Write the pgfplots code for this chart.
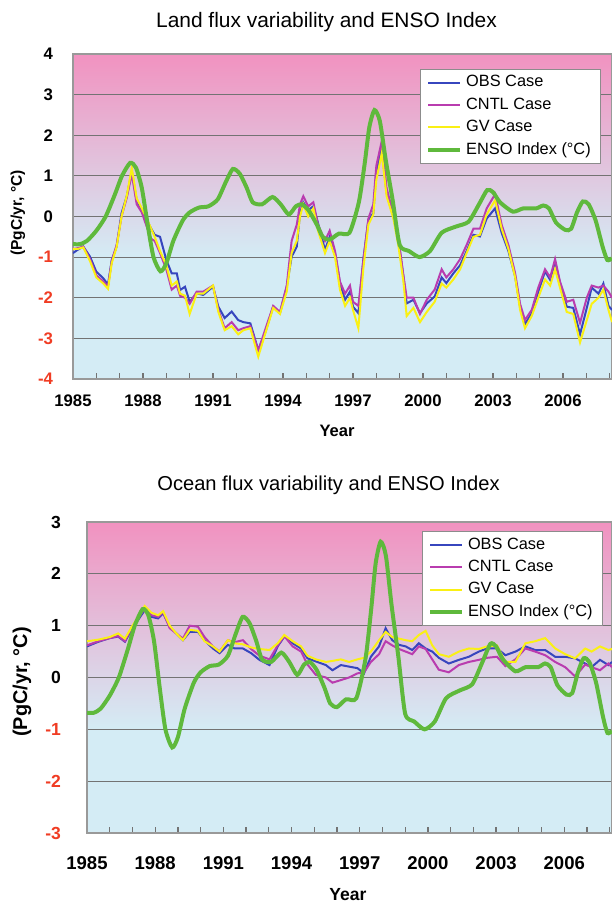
\documentclass[border=0pt]{standalone}
\usepackage{pgfplots}
\pgfplotsset{compat=1.18}
\usepackage{pgfplotstable}
\usepackage{fontspec}
\setmainfont{Liberation Sans}

\definecolor{pk}{RGB}{241,146,192}
\definecolor{lb}{RGB}{212,236,245}
\definecolor{obsc}{RGB}{55,70,190}
\definecolor{cntlc}{RGB}{185,60,175}
\definecolor{gvc}{RGB}{250,240,20}
\definecolor{ensoc}{RGB}{95,185,60}
\definecolor{negred}{RGB}{240,60,35}

\pgfdeclareverticalshading{landbg}{100bp}{color(0bp)=(lb); color(43.75bp)=(lb); color(75bp)=(pk); color(100bp)=(pk)}
\pgfdeclareverticalshading{oceanbg}{100bp}{color(0bp)=(lb); color(41.67bp)=(lb); color(75bp)=(pk); color(100bp)=(pk)}

\pgfplotstableread{
year v
1985.0 -0.68
1985.3 -0.68
1985.6 -0.6
1986.0 -0.35
1986.4 0.0
1986.8 0.55
1987.1 1.0
1987.45 1.32
1987.7 1.2
1987.95 0.7
1988.2 -0.2
1988.45 -1.0
1988.75 -1.35
1989.0 -1.15
1989.3 -0.6
1989.7 -0.1
1990.0 0.1
1990.4 0.22
1990.8 0.25
1991.2 0.42
1991.55 0.85
1991.85 1.17
1992.15 1.05
1992.45 0.7
1992.7 0.35
1993.1 0.3
1993.55 0.48
1993.9 0.3
1994.25 0.05
1994.55 0.25
1994.8 0.3
1995.1 0.15
1995.45 -0.2
1995.7 -0.5
1996.0 -0.57
1996.4 -0.42
1996.85 -0.4
1997.25 0.35
1997.5 1.3
1997.7 2.2
1997.92 2.62
1998.15 2.35
1998.4 1.4
1998.7 0.4
1999.0 -0.7
1999.4 -0.85
1999.85 -1.0
2000.3 -0.85
2000.8 -0.4
2001.4 -0.25
2001.95 -0.13
2002.4 0.3
2002.75 0.65
2003.0 0.6
2003.3 0.35
2003.85 0.12
2004.3 0.2
2004.85 0.2
2005.15 0.27
2005.4 0.2
2005.7 -0.15
2006.1 -0.33
2006.35 -0.3
2006.6 0.1
2006.85 0.37
2007.1 0.3
2007.4 -0.1
2007.7 -0.75
2007.9 -1.07
2008.1 -1.03
}\ensotab

\pgfplotstableread{
year obs cntl gv
1985.0 -0.9 -0.8 -0.8
1985.2 -0.82 -0.78 -0.8
1985.44 -0.74 -0.74 -0.76
1985.73 -0.99 -1.05 -1.1
1986.0 -1.36 -1.45 -1.5
1986.3 -1.52 -1.6 -1.65
1986.5 -1.68 -1.72 -1.78
1986.66 -1.07 -1.1 -1.15
1986.87 -0.74 -0.7 -0.75
1987.08 0.08 0.0 0.0
1987.3 0.49 0.45 0.5
1987.52 1.1 1.05 1.2
1987.73 0.4 0.3 0.45
1987.95 0.16 0.1 0.2
1988.16 -0.08 -0.25 -0.05
1988.35 -0.3 -0.55 -0.3
1988.5 -0.45 -0.6 -0.5
1988.73 -0.5 -0.9 -0.85
1989.0 -1.07 -1.3 -1.2
1989.23 -1.4 -1.8 -1.7
1989.45 -1.4 -1.7 -1.6
1989.59 -1.81 -1.95 -1.9
1989.8 -1.73 -2.0 -1.95
1990.0 -2.1 -2.15 -2.4
1990.3 -1.89 -1.85 -1.9
1990.58 -1.93 -1.85 -1.9
1991.0 -1.73 -1.7 -1.7
1991.23 -2.22 -2.3 -2.35
1991.5 -2.5 -2.75 -2.8
1991.8 -2.34 -2.6 -2.7
1992.08 -2.55 -2.8 -2.9
1992.3 -2.6 -2.75 -2.8
1992.6 -2.63 -2.7 -2.75
1992.94 -3.29 -3.3 -3.45
1993.23 -2.87 -2.8 -2.9
1993.58 -2.22 -2.2 -2.25
1993.87 -2.38 -2.35 -2.4
1994.16 -1.73 -1.7 -1.85
1994.37 -0.99 -0.6 -0.9
1994.59 -0.74 -0.2 -0.6
1994.73 0.08 0.3 0.0
1994.87 0.35 0.5 0.3
1995.08 0.16 0.25 0.0
1995.3 0.25 0.35 0.2
1995.5 -0.16 -0.2 -0.35
1995.8 -0.82 -0.6 -0.9
1996.0 -0.5 -0.35 -0.6
1996.23 -0.9 -0.85 -1.0
1996.44 -1.64 -1.6 -1.8
1996.66 -2.05 -1.9 -2.2
1996.87 -1.85 -1.7 -2.0
1997.0 -2.22 -2.1 -2.3
1997.23 -2.38 -2.2 -2.75
1997.44 -1.07 -1.1 -1.3
1997.66 -0.08 -0.05 -0.2
1997.87 0.08 0.3 0.05
1998.0 1.1 1.25 0.9
1998.23 1.7 1.85 1.55
1998.44 0.58 0.7 0.5
1998.73 0.0 0.05 -0.05
1998.94 -0.57 -0.5 -0.7
1999.16 -1.48 -1.45 -1.6
1999.3 -2.14 -2.0 -2.45
1999.59 -2.05 -2.0 -2.25
1999.87 -2.38 -2.4 -2.6
2000.16 -2.14 -2.05 -2.35
2000.5 -1.97 -1.8 -2.1
2000.8 -1.5 -1.3 -1.65
2001.0 -1.64 -1.5 -1.75
2001.3 -1.4 -1.3 -1.55
2001.59 -1.2 -1.05 -1.3
2001.87 -0.85 -0.7 -0.9
2002.16 -0.45 -0.3 -0.5
2002.44 -0.49 -0.3 -0.45
2002.73 -0.05 0.2 0.05
2003.09 0.2 0.55 0.4
2003.37 -0.4 -0.2 -0.3
2003.66 -0.85 -0.7 -0.8
2003.95 -1.48 -1.4 -1.5
2004.16 -2.22 -2.15 -2.3
2004.37 -2.65 -2.55 -2.75
2004.66 -2.38 -2.3 -2.45
2004.94 -1.85 -1.75 -2.0
2005.23 -1.35 -1.3 -1.55
2005.45 -1.56 -1.5 -1.7
2005.66 -1.11 -1.05 -1.3
2005.87 -1.64 -1.6 -1.75
2006.16 -2.22 -2.1 -2.35
2006.44 -2.25 -2.05 -2.4
2006.73 -2.9 -2.62 -3.1
2007.02 -2.25 -2.0 -2.55
2007.23 -1.75 -1.7 -2.15
2007.52 -1.9 -1.75 -2.0
2007.73 -1.65 -1.7 -1.8
2007.95 -2.2 -1.85 -2.3
2008.1 -2.3 -2.0 -2.6
}\landtab

\pgfplotstableread{
year obs cntl gv
1985.0 0.6 0.62 0.7
1985.5 0.69 0.7 0.73
1986.0 0.76 0.76 0.78
1986.37 0.79 0.8 0.85
1986.67 0.69 0.7 0.75
1986.96 0.92 0.95 0.97
1987.25 1.11 1.15 1.17
1987.54 1.3 1.33 1.38
1987.84 1.17 1.2 1.25
1988.13 1.14 1.17 1.2
1988.35 1.24 1.26 1.28
1988.64 0.98 0.95 1.0
1988.93 0.85 0.85 0.85
1989.22 0.72 0.75 0.72
1989.52 0.88 1.0 0.92
1989.88 0.88 0.98 0.9
1990.17 0.72 0.78 0.7
1990.54 0.56 0.6 0.6
1990.83 0.47 0.5 0.5
1991.2 0.63 0.72 0.72
1991.49 0.56 0.68 0.66
1991.86 0.56 0.72 0.64
1992.22 0.47 0.55 0.58
1992.59 0.34 0.42 0.55
1993.03 0.24 0.35 0.53
1993.39 0.6 0.62 0.66
1993.68 0.79 0.8 0.82
1994.05 0.66 0.6 0.7
1994.42 0.56 0.5 0.6
1994.7 0.37 0.25 0.42
1995.07 0.31 0.05 0.35
1995.51 0.24 0.0 0.3
1995.8 0.14 -0.1 0.32
1996.17 0.24 -0.05 0.35
1996.53 0.21 0.0 0.3
1996.9 0.18 0.08 0.35
1997.19 0.08 0.1 0.38
1997.49 0.4 0.3 0.5
1997.85 0.6 0.45 0.72
1998.14 0.95 0.7 0.88
1998.43 0.72 0.62 0.78
1998.73 0.63 0.55 0.75
1999.02 0.6 0.5 0.72
1999.31 0.53 0.45 0.7
1999.6 0.66 0.6 0.82
1999.9 0.56 0.55 0.9
2000.19 0.5 0.35 0.62
2000.48 0.38 0.15 0.45
2000.92 0.27 0.1 0.4
2001.36 0.34 0.24 0.5
2001.8 0.4 0.3 0.56
2002.24 0.5 0.34 0.55
2002.6 0.56 0.38 0.6
2003.04 0.56 0.4 0.62
2003.41 0.43 0.22 0.3
2003.85 0.5 0.35 0.3
2004.29 0.6 0.56 0.66
2004.72 0.53 0.5 0.7
2005.16 0.53 0.43 0.76
2005.6 0.4 0.3 0.56
2006.04 0.4 0.2 0.45
2006.48 0.37 0.02 0.37
2006.92 0.27 0.25 0.56
2007.2 0.2 0.2 0.5
2007.57 0.34 0.14 0.6
2007.94 0.24 0.27 0.53
2008.1 0.3 0.2 0.55
}\oceantab

\pgfplotsset{
  myax/.style={
    scale only axis,
    anchor=south west,
    xmin=1985, xmax=2008.1,
    xtick={1985,1988,...,2006},
    xticklabels={1985,1988,1991,1994,1997,2000,2003,2006},
    minor xtick={1986,1987,1989,1990,1992,1993,1995,1996,1998,1999,2001,2002,2004,2005,2007,2008},
    tick align=inside,
    major tick length=3bp, minor tick length=3bp,
    xtick pos=bottom,
    ytick style={draw=none},
    ymajorgrids,
    grid style={draw=black!55, line width=0.6bp},
    axis line style={draw=black!40, line width=0.8bp},
    xtick style={draw=black!55, line width=0.6bp},
    legend cell align=left,
    legend style={font=\fontsize{8.2}{9.6}\selectfont, draw=black!45, fill=white, line width=0.5bp,
      inner xsep=3bp, inner ysep=1.2bp, row sep=0bp},
    legend image code/.code={\draw[#1] (0bp,0bp) -- (16bp,0bp);},
  },
  obsst/.style={obsc, line width=1bp},
  cntlst/.style={cntlc, line width=1bp},
  gvst/.style={gvc, line width=1bp},
  ensost/.style={ensoc, line width=2bp, smooth, tension=0.4},
}

\begin{document}
\begin{tikzpicture}
\path[use as bounding box] (0,0) rectangle (306bp,451.5bp);

% ---------- Land ----------
\begin{axis}[myax,
  at={(36.5bp,262bp)}, width=269.5bp, height=162.5bp,
  axis background/.style={shading=landbg},
  ymin=-4, ymax=4, ytick={-4,...,4},
  yticklabels={\textcolor{negred}{-4},\textcolor{negred}{-3},\textcolor{negred}{-2},\textcolor{negred}{-1},0,1,2,3,4},
  xticklabel style={font=\bfseries\fontsize{8.4}{10}\selectfont, yshift=-4.5bp},
  yticklabel style={font=\bfseries\fontsize{8.4}{10}\selectfont, xshift=-6.5bp},
  legend style={at={(0.98,0.955)}, anchor=north east},
]
\addplot[obsst] table[x=year,y=obs] {\landtab};
\addplot[cntlst] table[x=year,y=cntl] {\landtab};
\addplot[gvst] table[x=year,y=gv] {\landtab};
\addplot[ensost] table[x=year,y=v] {\ensotab};
\legend{OBS Case, CNTL Case, GV Case, ENSO Index (°C)}
\end{axis}

% ---------- Ocean ----------
\begin{axis}[myax,
  at={(43.5bp,35bp)}, width=262.5bp, height=155.5bp,
  axis background/.style={shading=oceanbg},
  ymin=-3, ymax=3, ytick={-3,...,3},
  yticklabels={\textcolor{negred}{-3},\textcolor{negred}{-2},\textcolor{negred}{-1},0,1,2,3},
  xticklabel style={font=\bfseries\fontsize{9.3}{11}\selectfont, yshift=-8.5bp},
  yticklabel style={font=\bfseries\fontsize{8.8}{10}\selectfont, xshift=-9.5bp},
  legend style={at={(0.983,0.972)}, anchor=north east},
]
\addplot[obsst] table[x=year,y=obs] {\oceantab};
\addplot[cntlst] table[x=year,y=cntl] {\oceantab};
\addplot[gvst] table[x=year,y=gv] {\oceantab};
\addplot[ensost] table[x=year,y=v] {\ensotab};
\legend{OBS Case, CNTL Case, GV Case, ENSO Index (°C)}
\end{axis}

% ---------- titles and labels ----------
\node[font=\fontsize{10.5}{12}\selectfont] at (163.25bp,440.5bp) {Land flux variability and ENSO Index};
\node[font=\fontsize{10.1}{12}\selectfont] at (164.25bp,209bp) {Ocean flux variability and ENSO Index};
\node[font=\bfseries\fontsize{8.3}{10}\selectfont] at (168.5bp,236bp) {Year};
\node[font=\bfseries\fontsize{8.8}{10}\selectfont] at (174bp,4bp) {Year};
\node[font=\bfseries\fontsize{7.8}{10}\selectfont, rotate=90] at (9bp,345bp) {(PgC/yr, °C)};
\node[font=\bfseries\fontsize{10}{12}\selectfont, rotate=90] at (11bp,110.5bp) {(PgC/yr, °C)};
\end{tikzpicture}
\end{document}
